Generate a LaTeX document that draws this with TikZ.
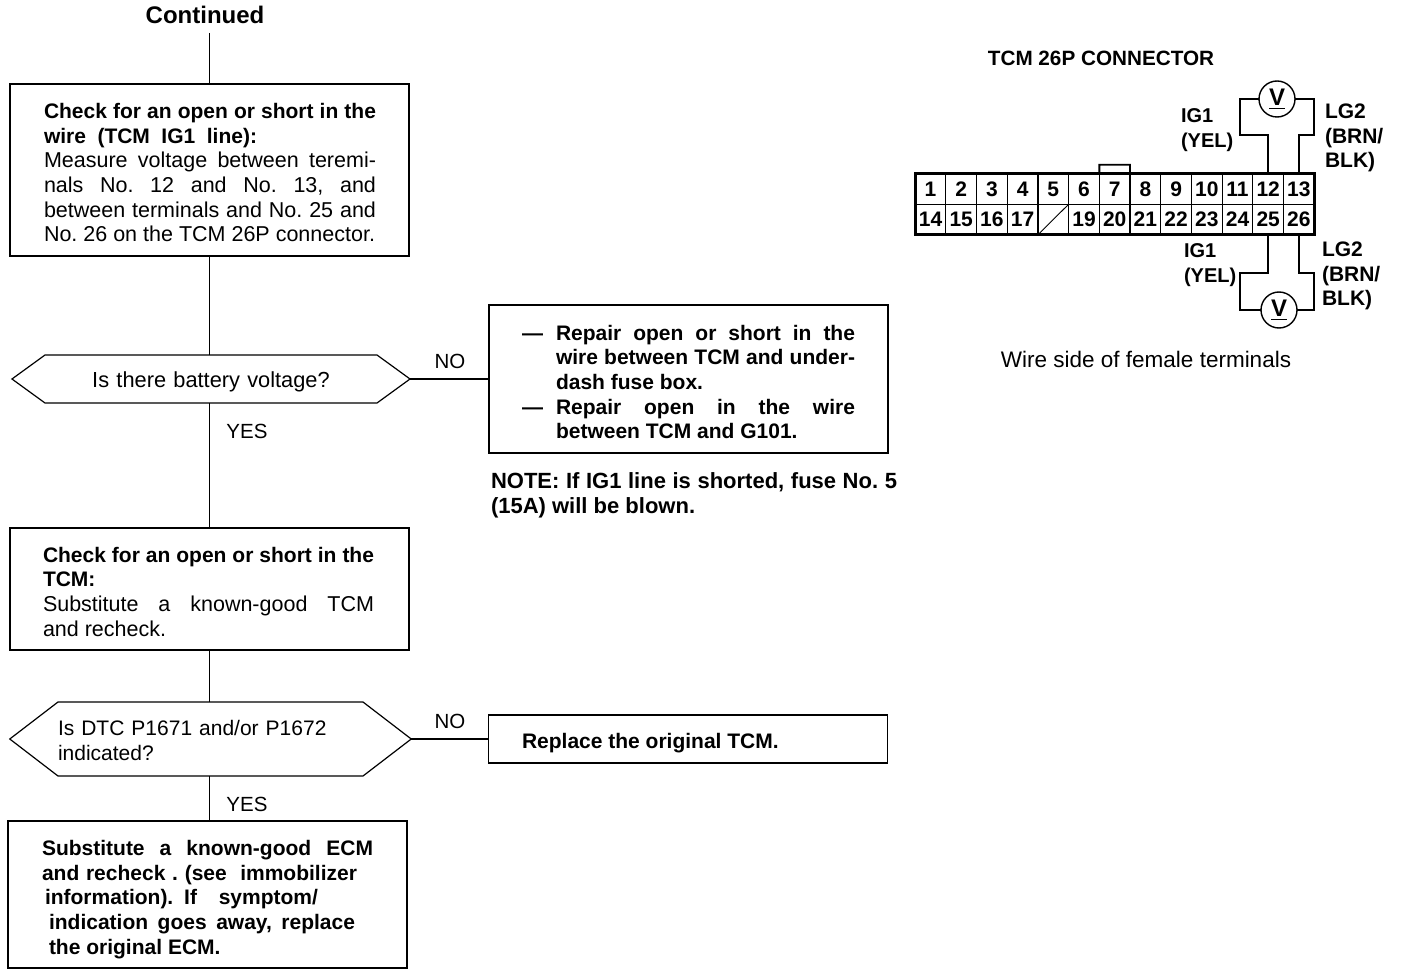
\documentclass[tikz,border=0pt]{standalone}
\usepackage{fontspec}
\setmainfont{Liberation Sans}
\usetikzlibrary{positioning, shapes.symbols}
\newcommand{\jl}[2]{\makebox[#1pt][s]{#2}}
\frenchspacing
\tikzset{
  txt/.style={inner sep=0pt, outer sep=0pt, font=\fontsize{20.5}{24.6}\selectfont, align=left},
  boldtxt/.style={txt, font=\fontsize{21}{24.6}\selectfont\bfseries},
  stepbox/.style={draw, line width=1.3pt, minimum width=399pt, inner sep=0pt, outer sep=0pt},
  hexbox/.style={draw, line width=1.2pt, shape=signal, signal to=west and east, inner sep=0pt, outer sep=0pt,
    font=\fontsize{21}{24.6}\selectfont},
  pin/.style={inner sep=0pt, outer sep=0pt, minimum width=30.7pt, minimum height=30.5pt, draw, line width=1.2pt,
    font=\fontsize{21}{21}\selectfont\bfseries},
  meter/.style={draw, circle, line width=1.4pt, minimum size=36pt, inner sep=0pt, outer sep=0pt,
    font=\fontsize{24}{24}\selectfont\bfseries},
  wire/.style={line width=1.6pt},
  flow/.style={line width=1.3pt}
}
\begin{document}
\begin{tikzpicture}[x=1pt,y=-1pt]
  \useasboundingbox (0,0) rectangle (1408,976);

  \node[boldtxt, font=\fontsize{24}{24}\selectfont\bfseries] (cont) at (205,15) {Continued};

  \node[stepbox, minimum height=172pt] (chk1) at (209.5,170) {};
  \node[txt, font=\fontsize{21.5}{24.6}\selectfont, anchor=north west, text width=332pt, align=justify] (chk1t) at (44,103.5) {%
    {\fontsize{21}{24.6}\selectfont\bfseries Check for an open or short in the}\linebreak
    {\fontsize{21}{24.6}\selectfont\bfseries \jl{213}{wire (TCM IG1 line):}}\par
    Measure voltage between teremi-\linebreak
    nals No. 12 and No. 13, and\linebreak
    between terminals and No. 25 and\linebreak
    No. 26 on the TCM 26P connector.\par};

  \node[hexbox, font=\fontsize{21.8}{24.6}\selectfont, text width=332pt, minimum height=48pt, align=center, signal pointer angle=72] (hex1) at (211,379) {\rule{0pt}{21pt}Is there battery voltage?};

  \node[stepbox, minimum height=122pt] (chk2) at (209.5,589) {};
  \node[txt, font=\fontsize{21.5}{24.6}\selectfont, anchor=north west, text width=331pt, align=justify] (chk2t) at (43,547) {%
    {\fontsize{21}{24.6}\selectfont\bfseries Check for an open or short in the}\linebreak
    {\fontsize{21}{24.6}\selectfont\bfseries TCM:}\par
    Substitute a known-good TCM\linebreak
    and recheck.\par};

  \node[hexbox, text width=305pt, minimum height=74pt, align=left, signal pointer angle=75] (hex2) at (210.5,739) {\rule{0pt}{18pt}Is DTC P1671 and/or P1672\\indicated?};

  \node[stepbox, minimum height=147pt] (chk3) at (207.5,894.5) {};
  \node[boldtxt, anchor=north west] (chk3t) at (42,840.5) {%
    \jl{331}{Substitute a known-good ECM}\\
    \jl{315}{and recheck . (see\ \ immobilizer}\\
    \hspace*{3pt}\jl{273}{information). If\ \ symptom/}\\
    \hspace*{7pt}\jl{306}{indication goes away, replace}\\
    \hspace*{7pt}the original ECM.};

  \node[stepbox, minimum height=148pt] (fix1) at (688.5,379) {};
  \node[boldtxt, anchor=north west, text width=333pt, align=justify] (fix1t) at (522,325) {%
    \hangindent=34pt\hangafter=1\makebox[34pt][l]{---}Repair open or short in the\linebreak
    wire between TCM and under-\linebreak
    dash fuse box.\par
    \hangindent=34pt\hangafter=1\makebox[34pt][l]{---}Repair open in the wire\linebreak
    between TCM and G101.\par};
  \node[boldtxt, font=\fontsize{22}{25}\selectfont\bfseries, anchor=north west] (note) at (491,472.5) {\jl{406}{NOTE: If IG1 line is shorted, fuse No. 5}\\(15A) will be blown.};

  \node[stepbox, minimum height=48pt] (fix2) at (688,739) {};
  \node[boldtxt, anchor=west] (fix2t) at (522,743) {Replace the original TCM.};

  \node[txt] (no1) at (450,361) {NO};
  \node[txt] (yes1) at (247,431) {YES};
  \node[txt] (no2) at (450,721) {NO};
  \node[txt] (yes2) at (247,804) {YES};

  \draw[flow] (cont.south -| chk1.north) ++(0,9) -- (chk1.north);
  \draw[flow] (chk1.south) -- (chk1.south |- hex1.north);
  \draw[flow] (chk1.south |- hex1.south) -- (chk2.north);
  \draw[flow] (chk2.south) -- (chk2.south |- hex2.north);
  \draw[flow] (chk2.south |- hex2.south) -- (chk2.south |- chk3.north);
  \draw[flow] (hex1.east) -- (fix1.west |- hex1.east);
  \draw[flow] (hex2.east) -- (fix2.west |- hex2.east);

  % connector
  \node[boldtxt, font=\fontsize{20.7}{24.6}\selectfont\bfseries] (title) at (1101,58.5) {TCM 26P CONNECTOR};
  \foreach \n [count=\i from 0] in {1,...,13} {
    \node[pin] (p\n) at (930.5+30.7*\i,189) {\n};
  }
  \foreach \n [count=\i from 0] in {14,15,16,17,18,19,20,21,22,23,24,25,26} {
    \ifnum\n=18
      \node[pin] (p\n) at (930.5+30.7*\i,219.5) {};
    \else
      \node[pin] (p\n) at (930.5+30.7*\i,219.5) {\n};
    \fi
  }
  \draw[line width=0.9pt] (p18.south west) -- (p18.north east);
  \draw[line width=3pt] (p1.north west) rectangle (p26.south east);
  \draw[line width=1.8pt] (p7.north west) -- ++(0,-9) -- ++(30.7,0) -- (p7.north east);

  \node[meter] (vtop) at (1277,99) {\underline{\raisebox{2pt}{V}}};
  \node[meter] (vbot) at (1279,310) {\underline{\raisebox{2pt}{V}}};
  \coordinate (a1) at (1240,135);
  \coordinate (a2) at (1314,135);
  \coordinate (b1) at (1240,273);
  \coordinate (b2) at (1314,273);
  \draw[wire] (p12.north) |- (a1) |- (vtop.west);
  \draw[wire] (p13.north) |- (a2) |- (vtop.east);
  \draw[wire] (p25.south) |- (b1) |- (vbot.west);
  \draw[wire] (p26.south) |- (b2) |- (vbot.east);

  \node[boldtxt, font=\fontsize{20}{24.6}\selectfont\bfseries, anchor=north west] (ig1) at (1181,108.5) {IG1\\(YEL)};
  \node[boldtxt, anchor=north west] (lg1) at (1325,104) {LG2\\(BRN/\\BLK)};
  \node[boldtxt, font=\fontsize{20}{24.6}\selectfont\bfseries, anchor=north west] (ig2) at (1184,243.5) {IG1\\(YEL)};
  \node[boldtxt, anchor=north west] (lg2) at (1322,242) {LG2\\(BRN/\\BLK)};
  \node[txt, font=\fontsize{22.5}{25}\selectfont] (side) at (1146,359) {Wire side of female terminals};
\end{tikzpicture}
\end{document}
